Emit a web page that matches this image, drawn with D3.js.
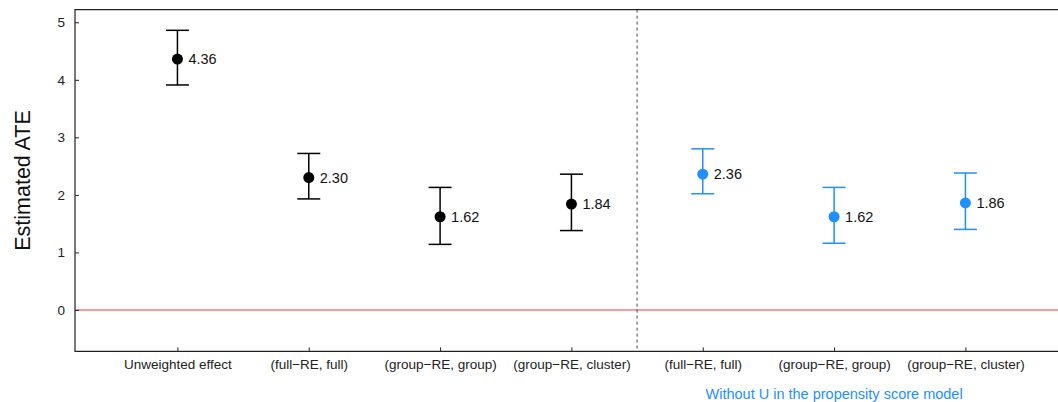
<!DOCTYPE html>
<html>
<head>
<meta charset="utf-8">
<script src="https://cdn.jsdelivr.net/npm/d3@7"></script>
<style>
  html, body { margin: 0; padding: 0; background: #fff; overflow: hidden; }
  svg { display: block; }
  text { font-family: "Liberation Sans", Arial, Helvetica, sans-serif; }
</style>
</head>
<body>
<svg id="chart" width="1058" height="402"></svg>
<script>
// ---- data ----
const categories = ["Unweighted effect", "(full\u2212RE, full)", "(group\u2212RE, group)", "(group\u2212RE, cluster)",
                    "(full\u2212RE, full)", "(group\u2212RE, group)", "(group\u2212RE, cluster)"];
const estimates = [4.36, 2.30, 1.62, 1.84, 2.36, 1.62, 1.86];
const lower     = [3.91, 1.93, 1.14, 1.38, 2.02, 1.16, 1.40];
const upper     = [4.86, 2.72, 2.13, 2.36, 2.80, 2.13, 2.38];
const groups    = ["with", "with", "with", "with", "without", "without", "without"];
const yTicks    = [0, 1, 2, 3, 4, 5];
const subtitle  = "Without U in the propensity score model";
const yTitle    = "Estimated ATE";

const colors = { with: "#000000", without: "#1E90FF" };

const W = 1058;
const svg = d3.select("#chart");
const plotLeft = 75, plotTop = 9.6, plotBottom = 351.4;

// x: positions 1..7, xlim (0.5, 7.5) with 4% expansion (right edge runs off the canvas)
const x = d3.scaleLinear().domain([0.22, 7.78]).range([plotLeft, plotLeft + 7.56 * 131.33]);
// y: ylim (-0.5, 5) with 4% expansion
const y = d3.scaleLinear().domain([-0.72, 5.22]).range([plotBottom, plotTop]);
const rightEdge = Math.min(x.range()[1], W);

const data = categories.map((c, i) => ({
  pos: i + 1, cat: c, est: estimates[i], lo: lower[i], hi: upper[i], g: groups[i]
}));

// zero reference line
svg.append("line")
  .attr("x1", plotLeft).attr("x2", rightEdge)
  .attr("y1", y(0)).attr("y2", y(0))
  .attr("stroke", "#f03c3c").attr("stroke-width", 1);

// dashed separator
svg.append("line")
  .attr("x1", x(4.5)).attr("x2", x(4.5))
  .attr("y1", plotTop).attr("y2", plotBottom)
  .attr("stroke", "#444").attr("stroke-width", 1)
  .attr("stroke-dasharray", "3,3");

// axes
const yAxis = d3.axisLeft(y).tickValues(yTicks).tickFormat(d3.format("d"))
  .tickSizeInner(-4).tickSizeOuter(0).tickPadding(10);
const gy = svg.append("g").attr("transform", `translate(${plotLeft},0)`).call(yAxis);
gy.select(".domain").remove();
gy.selectAll(".tick line").attr("stroke", "#222");
gy.selectAll(".tick text").attr("font-size", 13.5).attr("fill", "#222")
  .attr("font-family", "'Liberation Sans', Arial, sans-serif");

const xAxis = d3.axisBottom(x).tickValues(data.map(d => d.pos))
  .tickFormat((d, i) => categories[i]).tickSizeInner(-4).tickSizeOuter(0).tickPadding(8);
const gx = svg.append("g").attr("transform", `translate(0,${plotBottom})`).call(xAxis);
gx.select(".domain").remove();
gx.selectAll(".tick line").attr("stroke", "#222");
gx.selectAll(".tick text").attr("font-size", 13.5).attr("fill", "#222")
  .attr("font-family", "'Liberation Sans', Arial, sans-serif");

// frame: top, left and bottom sides (right side is outside the canvas)
svg.append("path")
  .attr("d", `M${rightEdge},${plotTop}H${plotLeft}V${plotBottom}H${rightEdge}`)
  .attr("fill", "none").attr("stroke", "#222").attr("stroke-width", 1.2);

// error bars
const capHalf = 11.5;
const eb = svg.append("g").selectAll("g").data(data).join("g")
  .attr("stroke", d => colors[d.g]).attr("stroke-width", 1.5);
eb.append("line")
  .attr("x1", d => x(d.pos)).attr("x2", d => x(d.pos))
  .attr("y1", d => y(d.lo)).attr("y2", d => y(d.hi));
eb.append("line")
  .attr("x1", d => x(d.pos) - capHalf).attr("x2", d => x(d.pos) + capHalf)
  .attr("y1", d => y(d.lo)).attr("y2", d => y(d.lo));
eb.append("line")
  .attr("x1", d => x(d.pos) - capHalf).attr("x2", d => x(d.pos) + capHalf)
  .attr("y1", d => y(d.hi)).attr("y2", d => y(d.hi));

// points
svg.append("g").selectAll("circle").data(data).join("circle")
  .attr("cx", d => x(d.pos)).attr("cy", d => y(d.est)).attr("r", 5.5)
  .attr("fill", d => colors[d.g]);

// value labels
svg.append("g").selectAll("text").data(data).join("text")
  .attr("x", d => x(d.pos) + 11).attr("y", d => y(d.est))
  .attr("dy", "0.36em")
  .attr("font-size", 14.5).attr("fill", "#111")
  .text(d => d.est.toFixed(2));

// subtitle under the second group
svg.append("text")
  .attr("x", x(6)).attr("y", 398.5)
  .attr("text-anchor", "middle").attr("font-size", 14.5).attr("fill", "#1E90FF")
  .text(subtitle);

// y title
svg.append("text")
  .attr("transform", `translate(30,${y(2.25)}) rotate(-90)`)
  .attr("text-anchor", "middle").attr("font-size", 21.5).attr("fill", "#111")
  .text(yTitle);
</script>
</body>
</html>
